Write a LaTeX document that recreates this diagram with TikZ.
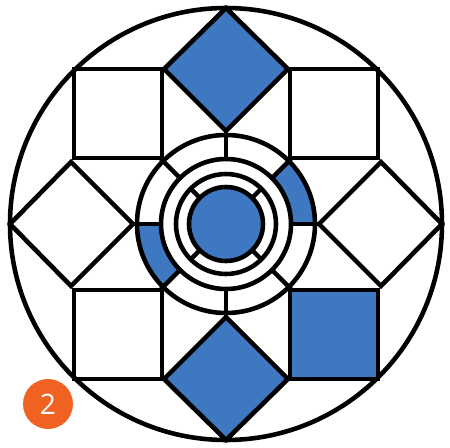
\documentclass[tikz,border=0pt]{standalone}
\usepackage{fontspec}
\setsansfont{Open Sans}
\usepackage{xcolor}
\usetikzlibrary{calc}

\definecolor{tileblue}{RGB}{62,120,192}
\definecolor{badgeorange}{RGB}{240,98,34}

\begin{document}
\begin{tikzpicture}[x=0.02cm, y=0.02cm,
  tile/.style={draw=black, line width=2.6pt}]
  \useasboundingbox (-226,-223) rectangle (224,224);

  % Outer ring
  \draw[tile] (0,0) circle (216);

  % Diamonds
  \foreach \a/\f in {0/white, 90/tileblue, 180/white, 270/tileblue} {
    \draw[tile, fill=\f, rotate=\a] (93,0) -- (155,62) -- (216,0) -- (155,-62) -- cycle;
  }

  % Squares
  \draw[tile] (-152,66) rectangle (-64,155);
  \draw[tile] (64,66) rectangle (152,155);
  \draw[tile] (-152,-155) rectangle (-64,-66);
  \draw[tile, fill=tileblue] (64,-155) rectangle (152,-66);

  % Band segments
  \foreach \a in {0, 180} {
    \fill[tileblue] (\a:65) arc (\a:\a+45:65) -- (\a+45:89) arc (\a+45:\a:89) -- cycle;
  }

  % Band
  \draw[tile] (0,0) circle (89);
  \draw[tile] (0,0) circle (65);
  \foreach \a in {0, 90, 180, 270} {
    \draw[tile] (\a:65) -- (\a:93);
  }
  \foreach \a in {45, 135, 225, 315} {
    \draw[tile] (\a:65) -- (\a:92);
  }

  % Inner ring and disc
  \draw[tile] (0,0) circle (50);
  \draw[tile, fill=tileblue] (0,0) circle (37);
  \foreach \a in {45, 135, 225, 315} {
    \draw[tile] (\a:37) -- (\a:50);
  }

  % Badge
  \node[circle, fill=badgeorange, minimum size=1cm, inner sep=0pt, text=white,
        font=\sffamily\fontsize{16}{16}\selectfont] (badge) at (-178,-180) {2};
\end{tikzpicture}
\end{document}
